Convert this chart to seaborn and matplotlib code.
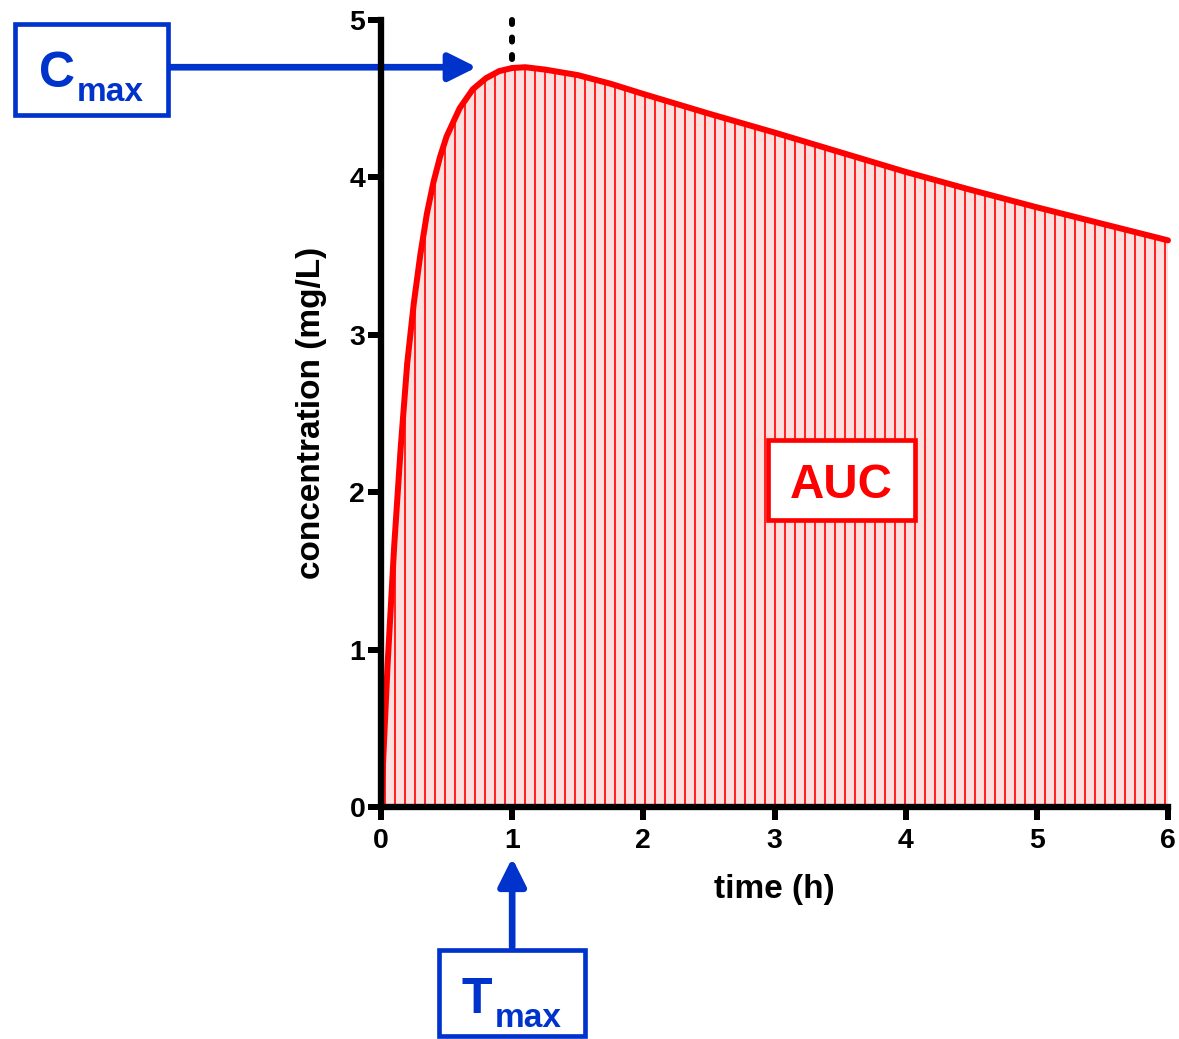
import numpy as np
import pandas as pd
import matplotlib.pyplot as plt
from matplotlib.patches import Rectangle
import seaborn as sns

# Concentration-time profile
time_h = [0, 0.025, 0.05, 0.1, 0.15, 0.2, 0.25, 0.3, 0.35, 0.4, 0.45, 0.5, 0.6, 0.7, 0.8, 0.9,
          1.0, 1.1, 1.25, 1.5, 1.75, 2.0, 2.5, 3.0, 3.5, 4.0, 4.5, 5.0, 5.5, 6.0]
conc_mg_l = [0, 0.45, 0.90, 1.65, 2.28, 2.82, 3.20, 3.51, 3.77, 3.97, 4.13, 4.26, 4.44, 4.56,
             4.63, 4.675, 4.695, 4.70, 4.685, 4.65, 4.595, 4.53, 4.405, 4.285, 4.16, 4.035,
             3.92, 3.81, 3.705, 3.60]
x_ticks = [0, 1, 2, 3, 4, 5, 6]
y_ticks = [0, 1, 2, 3, 4, 5]
t_max = 1.0
cmax_arrow_t = 0.70

df = pd.DataFrame({"time": time_h, "conc": conc_mg_l})
c_max = df["conc"].max()

BLUE = "#0033CC"
RED = "#FF0000"
PINK = "#FFDEDE"

sns.set_style("ticks")
plt.rcParams["font.family"] = ["Liberation Sans", "DejaVu Sans"]
plt.rcParams["font.weight"] = "bold"
plt.rcParams["axes.labelweight"] = "bold"
plt.rcParams["text.color"] = "black"
plt.rcParams["axes.labelcolor"] = "black"
plt.rcParams["xtick.color"] = "black"
plt.rcParams["ytick.color"] = "black"
plt.rcParams["hatch.color"] = RED
plt.rcParams["hatch.linewidth"] = 1.0

W, H, DPI = 1179, 1039, 120
fig = plt.figure(figsize=(W / DPI, H / DPI), dpi=DPI)
ax = fig.add_axes([381 / W, 1 - 807 / H, 787 / W, 787 / H])


def fpx(x, y):
    # pixel (top-left origin) -> figure fraction
    return (x / W, 1 - y / H)


# AUC shading with vertical hatching
ax.fill_between(df["time"], 0, df["conc"], facecolor=PINK, edgecolor=RED,
                hatch="||", linewidth=0, zorder=1)
sns.lineplot(data=df, x="time", y="conc", color=RED, linewidth=3.6, ax=ax,
             clip_on=False, zorder=3, solid_capstyle="round", solid_joinstyle="round")

# dotted marker above the peak
ax.plot([t_max, t_max], [5, c_max], color="black", linewidth=3.6,
        linestyle=(0, (0.67, 2.25)), dash_capstyle="round", clip_on=False, zorder=3)

ax.set_xlim(0, 6)
ax.set_ylim(0, 5)
ax.set_xticks(x_ticks)
ax.set_yticks(y_ticks)
ax.set_xticklabels([str(v) for v in x_ticks])
ax.set_yticklabels([str(v) for v in y_ticks])
ax.tick_params(axis="both", length=8, width=3.6, color="black", labelcolor="black",
               labelsize=17)
ax.tick_params(axis="x", pad=4.5)
ax.tick_params(axis="y", pad=1.5)
for s in ["top", "right"]:
    ax.spines[s].set_visible(False)
for s in ["left", "bottom"]:
    ax.spines[s].set_linewidth(3.8)
    ax.spines[s].set_color("black")
    ax.spines[s].set_zorder(4)

ax.set_xlabel("time (h)", fontsize=20)
ax.set_ylabel("concentration (mg/L)", fontsize=20)
ax.xaxis.set_label_coords(0.5, (807 - 874) / 787)
ax.yaxis.set_label_coords((327 - 381) / 787, (807 - 413) / 787)


def box(x0, y0, x1, y1, ec):
    r = Rectangle(fpx(x0, y1), (x1 - x0) / W, (y1 - y0) / H, transform=fig.transFigure,
                  facecolor="white", edgecolor=ec, linewidth=2.8, zorder=5)
    fig.add_artist(r)


box(14.5, 24.5, 167.5, 114.5, BLUE)
box(438.5, 949.5, 584.5, 1036, BLUE)
box(767.5, 440.5, 914.5, 519.5, RED)

fig.text(*fpx(39, 87), "C", fontsize=30, color=BLUE, ha="left", va="baseline", zorder=6)
fig.text(*fpx(77, 101), "max", fontsize=20, color=BLUE, ha="left", va="baseline", zorder=6)
fig.text(*fpx(462, 1013), "T", fontsize=30, color=BLUE, ha="left", va="baseline", zorder=6)
fig.text(*fpx(495, 1027), "max", fontsize=20, color=BLUE, ha="left", va="baseline", zorder=6)
fig.text(*fpx(841, 498), "AUC", fontsize=28.5, color=RED, ha="center", va="baseline", zorder=6)

arrow = dict(arrowstyle="-|>,head_length=0.7,head_width=0.35", mutation_scale=20,
             lw=4, color=BLUE, shrinkA=0, shrinkB=0)
ax.annotate("", xy=(cmax_arrow_t + 0.03, c_max), xycoords="data",
            xytext=(170 / W, c_max), textcoords=("figure fraction", "data"),
            arrowprops=arrow, annotation_clip=False)
ax.annotate("", xy=(t_max, 1 - 858 / H), xycoords=("data", "figure fraction"),
            xytext=(t_max, 1 - 947 / H), textcoords=("data", "figure fraction"),
            arrowprops=arrow, annotation_clip=False)

fig.savefig("out.png", dpi=DPI)
